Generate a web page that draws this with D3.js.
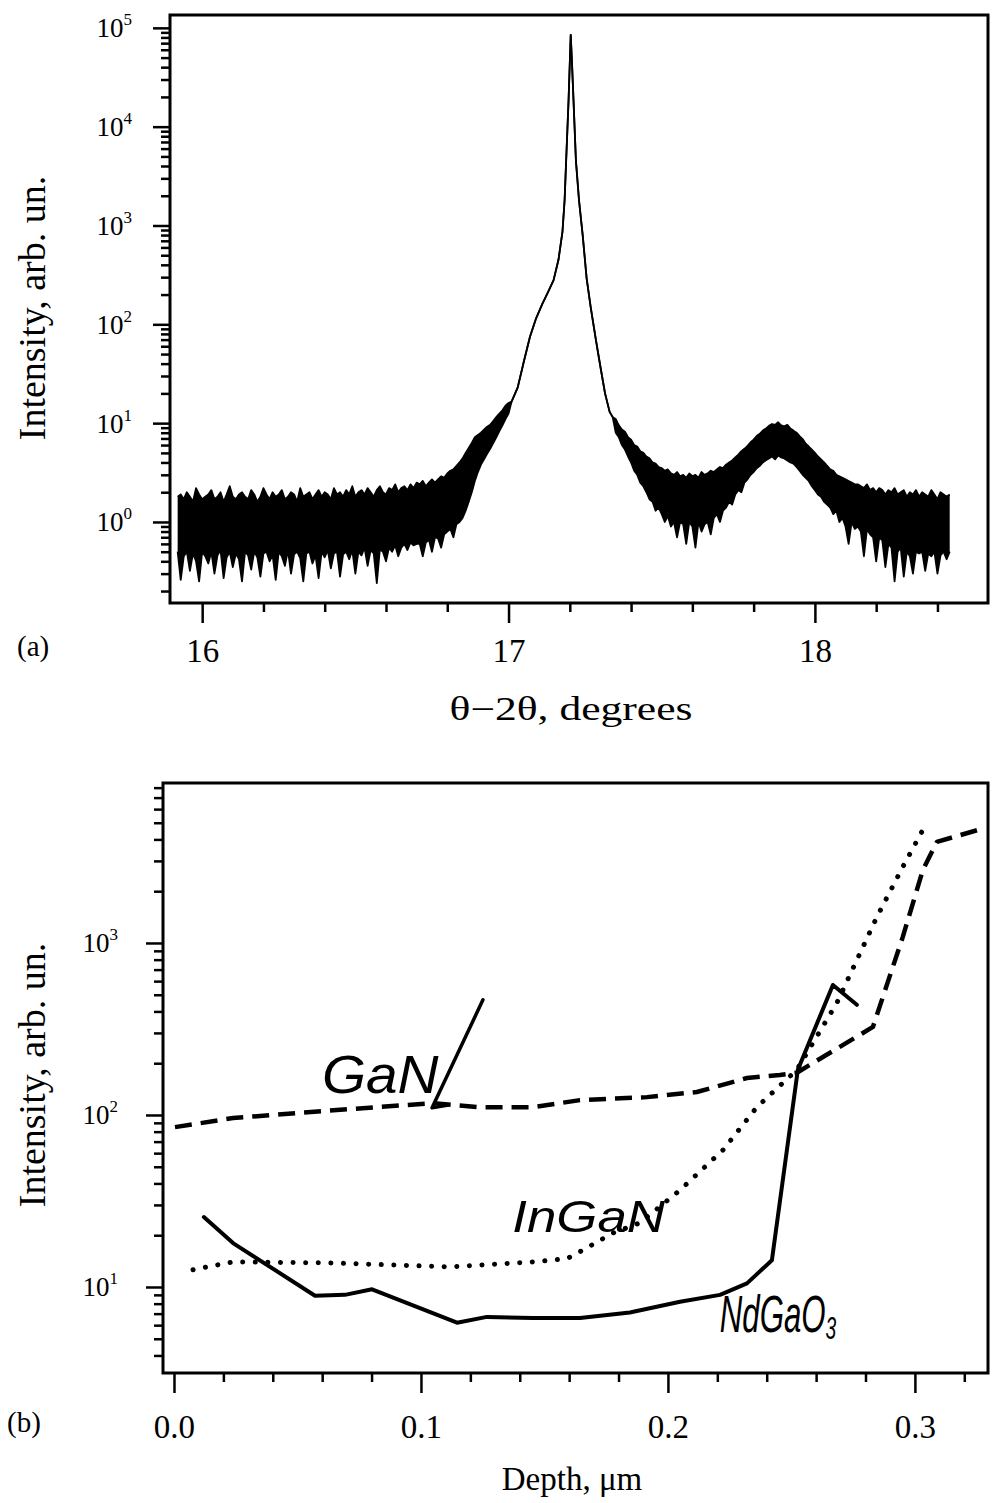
<!DOCTYPE html>
<html>
<head>
<meta charset="utf-8">
<script src="https://cdn.jsdelivr.net/npm/d3@7"></script>
<style>
  body { margin: 0; background: #fff; }
  text { font-family: "Liberation Serif", "Times New Roman", serif; fill: #000; }
  .note { font-family: "Liberation Sans Narrow", "Liberation Sans", sans-serif; font-style: italic; }
</style>
</head>
<body>
<svg id="chart" width="992" height="1503"></svg>
<script>
// ---------- panel (a): theta-2theta scan ----------
// noisy parts are read as top / bottom of the trace, sampled every 0.01 deg
const scanStart = 15.92;
const scanStep = 0.01;
const leftUpper = [
  1.8,1.9,1.7,2.0,1.8,1.6,2.2,1.9,1.7,1.8, 1.9,2.1,1.7,1.8,2.0,1.6,1.9,2.3,1.8,1.7,
  1.9,2.0,1.8,1.7,2.1,1.9,1.6,1.8,2.2,1.9, 1.7,2.0,1.8,1.9,2.1,1.7,1.8,2.0,1.9,1.6,
  2.2,1.8,1.9,2.0,1.7,1.9,2.1,1.8,2.0,1.9, 1.7,2.2,1.9,2.0,1.8,2.1,1.9,2.3,1.8,2.0,
  2.1,1.9,2.2,2.0,1.8,2.1,2.3,2.0,1.9,2.2, 2.1,2.4,2.0,2.2,2.3,2.1,2.4,2.2,2.5,
  2.4,2.6,2.3,2.5,2.7,2.5,2.7,2.9,2.8,3.1, 3.3,3.4,3.7,4.0,4.4,5.0,5.6,6.3,7.2,7.6,
  8.0,8.6,9.2,9.6,10.5,11.5,12.5,13.5,15,16
];
const leftLower = [
  0.5,0.26,0.45,0.5,0.32,0.48,0.4,0.25,0.5,0.45, 0.38,0.5,0.3,0.46,0.52,0.27,0.44,0.5,0.35,0.48,
  0.42,0.25,0.5,0.46,0.33,0.5,0.44,0.28,0.48,0.5, 0.4,0.46,0.26,0.5,0.45,0.36,0.52,0.3,0.47,0.5,
  0.43,0.25,0.48,0.5,0.38,0.46,0.27,0.5,0.44,0.52, 0.34,0.48,0.5,0.28,0.47,0.5,0.42,0.52,0.3,0.5,
  0.46,0.55,0.36,0.52,0.48,0.24,0.53,0.5,0.4,0.55, 0.5,0.58,0.45,0.55,0.6,0.52,0.62,0.58,0.6,
  0.6,0.45,0.62,0.66,0.5,0.7,0.68,0.55,0.75,0.8, 0.85,0.7,0.95,1.0,1.1,1.3,1.6,2.0,2.6,3.2,
  3.8,4.3,4.9,5.5,6.3,7.2,8.3,9.5,11,12.5
];
const peakTheta = [17.01, 17.03, 17.05, 17.07, 17.09, 17.11, 17.13, 17.147, 17.163, 17.176,
  17.183, 17.188, 17.196, 17.203, 17.207, 17.212, 17.22, 17.23, 17.242, 17.255,
  17.268, 17.285, 17.30, 17.315, 17.33, 17.34];
const peakIntensity = [16.5, 23, 42, 75, 115, 160, 215, 280, 450, 860,
  1800, 4500, 18700, 85000, 45000, 18700, 4500, 1800, 800, 290,
  150, 70, 37, 20, 13, 11.5];
const rightStart = 17.35;
const rightUpper = [
  11,9.5,8.6,8.2,7.2,6.8,6.0,5.8,5.2,5.0, 4.6,4.4,4.0,3.9,3.6,3.5,3.3,3.4,3.1,3.0,
  3.2,2.9,3.0,2.8,3.1,2.9,3.0,2.8,3.2,3.0, 3.1,3.3,3.2,3.4,3.6,3.5,3.8,4.0,4.2,4.5,
  4.8,5.2,5.5,5.9,6.4,6.8,7.4,7.8,8.4,8.8, 9.4,9.8,9.6,10.2,9.5,9.3,9.6,8.8,8.4,8.0,
  7.4,6.9,6.2,5.8,5.4,5.0,4.6,4.3,4.0,3.7, 3.4,3.3,3.0,2.9,2.8,2.7,2.6,2.5,2.4,2.4,
  2.3,2.2,2.4,2.1,2.2,2.0,2.2,2.1,1.9,2.1, 2.0,2.2,1.9,2.0,2.1,1.8,2.0,1.9,2.1,1.8,
  2.0,1.9,1.8,2.1,1.9,1.7,2.0,1.9,1.8,1.9
];
const rightLower = [
  8.0,7.2,6.0,5.4,4.6,4.0,3.3,3.0,2.5,2.3, 2.0,1.7,1.6,1.3,1.4,1.2,1.0,1.15,0.9,1.0,
  0.7,1.0,0.95,0.6,1.0,0.9,0.55,1.0,0.8,0.95, 1.0,0.75,1.1,1.2,1.0,1.3,1.4,1.6,1.5,1.9,
  2.1,2.0,2.5,2.7,3.0,3.2,3.5,3.7,4.0,4.2, 4.4,4.6,4.3,4.7,4.5,4.4,4.2,4.0,3.9,3.6,
  3.3,3.0,2.8,2.6,2.3,2.1,1.9,1.8,1.6,1.5, 1.4,1.2,1.3,1.0,1.1,0.9,0.6,1.0,0.85,0.9,
  0.8,0.45,0.85,0.75,0.7,0.4,0.7,0.65,0.35,0.6, 0.55,0.25,0.5,0.55,0.28,0.5,0.45,0.3,0.5,0.48,
  0.5,0.32,0.48,0.45,0.5,0.3,0.46,0.5,0.42,0.5
];
const thetaMajor = [16, 17, 18];
const thetaMinor = [16.2, 16.4, 16.6, 16.8, 17.2, 17.4, 17.6, 17.8, 18.2, 18.4];

// ---------- panel (b): depth profiles ----------
const ganDepth = [0.0004, 0.0239, 0.0514, 0.0817, 0.1049, 0.1239, 0.1453, 0.1644, 0.1915, 0.2117,
  0.2320, 0.2453, 0.2522, 0.2830, 0.2951, 0.3032, 0.3089, 0.3255];
const ganI = [85, 96, 103, 111, 117, 111, 111, 122, 127, 136, 164, 171, 176, 325, 1085, 2650, 3870, 4540];
const ingaDepth = [0.0077, 0.0239, 0.0632, 0.1117, 0.1453, 0.1591, 0.1656, 0.1777, 0.1887, 0.2049,
  0.2223, 0.2360, 0.2522, 0.2684, 0.2846, 0.2951, 0.3032];
const ingaI = [12.6, 14.0, 13.8, 13.1, 14.0, 14.6, 16.4, 20.6, 23.6, 36.6, 62.6, 111, 183, 448, 1416, 2767, 4540];
const ndgaoDepth = [0.0121, 0.0239, 0.0571, 0.0692, 0.0802, 0.1146, 0.1267, 0.1453, 0.1644, 0.1846,
  0.2049, 0.2211, 0.2320, 0.2421, 0.2526, 0.2668, 0.2765];
const ndgaoI = [25.5, 18.0, 8.9, 9.0, 9.7, 6.2, 6.7, 6.6, 6.6, 7.1, 8.2, 9.0, 10.5, 14.3, 183, 570, 437];
const depthMajor = [0, 0.1, 0.2, 0.3];
const depthMinor = [0.02, 0.04, 0.06, 0.08, 0.12, 0.14, 0.16, 0.18, 0.22, 0.24, 0.26, 0.28, 0.32];

// handwritten labels (main text, subscript) and the GaN pointer stroke
const noteText = ['GaN', 'InGaN', 'NdGaO'];
const noteSub = ['', '', '3'];
const noteDepth = [0.0599, 0.137, 0.221];
const noteI = [134, 20.9, 5.5];
const pointerDepth = [0.1251, 0.1045, 0.1105];
const pointerI = [467, 110, 114];

const svg = d3.select('#chart');

// frame boxes
const A = { left: 170, right: 988, top: 15, bottom: 603 };
const B = { left: 163, right: 988, top: 783, bottom: 1373 };

const xA = d3.scaleLinear().domain([15.895, 18.565]).range([A.left, A.right]);
const yA = d3.scaleLog().domain([10 ** -0.82, 10 ** 5.13]).range([A.bottom, A.top]);
const xB = d3.scaleLinear().domain([-0.00445, 0.3296]).range([B.left, B.right]);
const yB = d3.scaleLog().domain([10 ** 0.5, 10 ** 3.93]).range([B.bottom, B.top]);

function styleAxis(g) {
  g.select('.domain').remove();
  g.selectAll('line').attr('stroke', '#000').attr('stroke-width', 2.5);
}

function logAxis(y, x0, labelX) {
  const ticks = y.ticks();
  const isMajor = d => Math.abs(Math.log10(d) - Math.round(Math.log10(d))) < 1e-9;
  svg.append('g').attr('transform', `translate(${x0},0)`)
    .call(d3.axisLeft(y).tickValues(ticks.filter(d => !isMajor(d))).tickSize(9).tickFormat(''))
    .call(styleAxis);
  const g = svg.append('g').attr('transform', `translate(${x0},0)`)
    .call(d3.axisLeft(y).tickValues(ticks.filter(isMajor)).tickSize(17).tickFormat(''))
    .call(styleAxis);
  g.selectAll('.tick').append('text')
    .attr('x', labelX).attr('dy', 9)
    .attr('text-anchor', 'end')
    .style('font-size', '27px')
    .each(function(d) {
      const t = d3.select(this);
      t.append('tspan').text('10');
      t.append('tspan').attr('dy', -12).style('font-size', '17px').text(Math.round(Math.log10(d)));
    });
}

function bottomAxis(x, y0, major, minor, fmt, labelY) {
  svg.append('g').attr('transform', `translate(0,${y0})`)
    .call(d3.axisBottom(x).tickValues(minor).tickSize(9).tickFormat(''))
    .call(styleAxis);
  const g = svg.append('g').attr('transform', `translate(0,${y0})`)
    .call(d3.axisBottom(x).tickValues(major).tickSize(20).tickFormat(fmt))
    .call(styleAxis);
  g.selectAll('text')
    .attr('y', labelY).attr('dy', 0)
    .style('font-size', '33px')
    .attr('fill', '#000');
}

function frame(box) {
  svg.append('rect')
    .attr('x', box.left).attr('y', box.top)
    .attr('width', box.right - box.left).attr('height', box.bottom - box.top)
    .attr('fill', 'none').attr('stroke', '#000').attr('stroke-width', 3);
}

// ---------- draw panel (a) ----------
const scan = [];
leftUpper.forEach((u, i) => scan.push({ t: scanStart + i * scanStep, hi: u, lo: leftLower[i] }));
peakTheta.forEach((t, i) => scan.push({ t: t, hi: peakIntensity[i], lo: peakIntensity[i] }));
rightUpper.forEach((u, i) => scan.push({ t: rightStart + i * scanStep, hi: u, lo: rightLower[i] }));

svg.append('clipPath').attr('id', 'clipA').append('rect')
  .attr('x', A.left).attr('y', A.top).attr('width', A.right - A.left).attr('height', A.bottom - A.top);
const plotA = svg.append('g').attr('clip-path', 'url(#clipA)');

plotA.append('path').datum(scan)
  .attr('d', d3.area().x(d => xA(d.t)).y0(d => yA(d.lo)).y1(d => yA(d.hi)))
  .attr('fill', '#000');
['hi', 'lo'].forEach(k => {
  plotA.append('path').datum(scan)
    .attr('d', d3.line().x(d => xA(d.t)).y(d => yA(d[k])))
    .attr('fill', 'none').attr('stroke', '#000').attr('stroke-width', 1.8)
    .attr('stroke-linejoin', 'round');
});

frame(A);
logAxis(yA, A.left, -38);
bottomAxis(xA, A.bottom, thetaMajor, thetaMinor, d3.format('d'), 59);

svg.append('text').attr('x', 571).attr('y', 720).attr('text-anchor', 'middle')
  .attr('textLength', 243).attr('lengthAdjust', 'spacingAndGlyphs')
  .style('font-size', '33px').text('θ−2θ, degrees');
svg.append('text').attr('transform', 'translate(45,308) rotate(-90)').attr('text-anchor', 'middle')
  .style('font-size', '38px').text('Intensity, arb. un.');
svg.append('text').attr('x', 17).attr('y', 656).style('font-size', '29px').text('(a)');

// ---------- draw panel (b) ----------
svg.append('clipPath').attr('id', 'clipB').append('rect')
  .attr('x', B.left).attr('y', B.top).attr('width', B.right - B.left).attr('height', B.bottom - B.top);
const plotB = svg.append('g').attr('clip-path', 'url(#clipB)');

const profiles = [
  { depth: ganDepth, val: ganI, dash: '17,9', cap: 'butt', w: 4.5 },
  { depth: ingaDepth, val: ingaI, dash: '0.1,12.5', cap: 'round', w: 5 },
  { depth: ndgaoDepth, val: ndgaoI, dash: null, cap: 'round', w: 4 }
];
profiles.forEach(p => {
  const pts = p.depth.map((d, i) => [d, p.val[i]]);
  plotB.append('path').datum(pts)
    .attr('d', d3.line().x(d => xB(d[0])).y(d => yB(d[1])))
    .attr('fill', 'none').attr('stroke', '#000')
    .attr('stroke-width', p.w).attr('stroke-linecap', p.cap).attr('stroke-linejoin', 'round')
    .attr('stroke-dasharray', p.dash);
});

// handwritten labels, squeezed sideways like the pen lettering
const noteSize = [54, 44, 52];
const noteSquash = [1.05, 1.2, 0.6];
noteText.forEach((t, i) => {
  const txt = plotB.append('text').attr('class', 'note')
    .attr('transform', `translate(${xB(noteDepth[i])},${yB(noteI[i])}) scale(${noteSquash[i]},1)`)
    .style('font-size', noteSize[i] + 'px')
    .text(t);
  if (noteSub[i]) {
    txt.append('tspan').attr('dy', 7).style('font-size', '32px').text(noteSub[i]);
  }
});

plotB.append('path').datum(pointerDepth.map((d, i) => [d, pointerI[i]]))
  .attr('d', d3.line().x(d => xB(d[0])).y(d => yB(d[1])))
  .attr('fill', 'none').attr('stroke', '#000').attr('stroke-width', 3.5)
  .attr('stroke-linecap', 'round').attr('stroke-linejoin', 'round');

frame(B);
logAxis(yB, B.left, -45);
bottomAxis(xB, B.bottom, depthMajor, depthMinor, d3.format('.1f'), 65);

svg.append('text').attr('x', 572).attr('y', 1490).attr('text-anchor', 'middle')
  .style('font-size', '33px').text('Depth, μm');
svg.append('text').attr('transform', 'translate(45,1075) rotate(-90)').attr('text-anchor', 'middle')
  .style('font-size', '38px').text('Intensity, arb. un.');
svg.append('text').attr('x', 7).attr('y', 1432).style('font-size', '29px').text('(b)');
</script>
</body>
</html>
